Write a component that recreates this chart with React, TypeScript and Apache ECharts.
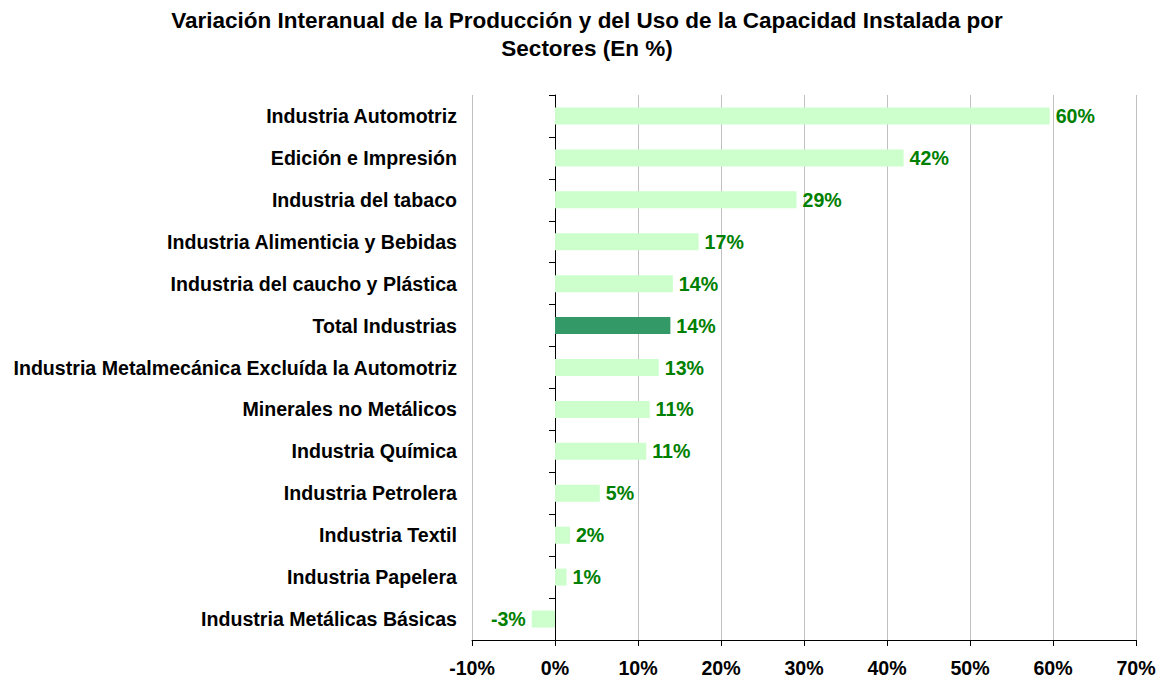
import React, { useEffect, useRef } from "react";
import * as echarts from "echarts";

const categories = [
  "Industria Automotriz",
  "Edición e Impresión",
  "Industria del tabaco",
  "Industria Alimenticia y Bebidas",
  "Industria del caucho y Plástica",
  "Total Industrias",
  "Industria Metalmecánica Excluída la Automotriz",
  "Minerales no Metálicos",
  "Industria Química",
  "Industria Petrolera",
  "Industria Textil",
  "Industria Papelera",
  "Industria Metálicas Básicas",
];

const values = [59.6, 42.0, 29.1, 17.3, 14.2, 13.9, 12.5, 11.4, 11.0, 5.4, 1.8, 1.4, -2.8];

const highlighted = "Total Industrias";

const titleText = "Variación Interanual de la Producción y del Uso de la Capacidad Instalada por\nSectores (En %)";

const FONT = "'Liberation Sans', Arial, Helvetica, sans-serif";
const FS = 19.6;

export default function App() {
  const ref = useRef<HTMLDivElement>(null);

  useEffect(() => {
    if (!ref.current) return;
    const chart = echarts.init(ref.current, null, { renderer: "svg" });
    const data = values.map((v, i) => ({
      value: v,
      itemStyle: { color: categories[i] === highlighted ? "#339966" : "#CCFFCC" },
      label: { position: v < 0 ? "left" : "right" },
    }));
    chart.setOption({
      animation: false,
      backgroundColor: "#ffffff",
      title: {
        text: titleText,
        left: 587,
        top: 6,
        padding: 0,
        textAlign: "center",
        textStyle: {
          fontFamily: FONT,
          fontWeight: "bold",
          fontSize: 22.5,
          lineHeight: 28,
          color: "#000",
          align: "center",
        },
      },
      grid: { left: 472, right: 31, top: 95, bottom: 41, containLabel: false },
      xAxis: {
        type: "value",
        min: -10,
        max: 70,
        interval: 10,
        axisLine: { show: true, onZero: false, lineStyle: { color: "#000", width: 1 } },
        axisTick: { show: true, length: 6, lineStyle: { color: "#000" } },
        splitLine: { show: true, lineStyle: { color: "#c0c0c0", width: 1 } },
        axisLabel: {
          formatter: "{value}%",
          fontFamily: FONT,
          fontWeight: "bold",
          fontSize: FS,
          color: "#000",
          margin: 18,
        },
      },
      yAxis: [
        {
          type: "category",
          data: categories,
          inverse: true,
          axisLine: { show: false, onZero: false },
          axisTick: { show: false },
          axisLabel: {
            fontFamily: FONT,
            fontWeight: "bold",
            fontSize: FS,
            color: "#000",
            margin: 15,
          },
        },
        {
          type: "category",
          data: categories,
          inverse: true,
          position: "left",
          axisLine: { show: true, onZero: true, onZeroAxisIndex: 0, lineStyle: { color: "#000", width: 1 } },
          axisTick: { show: true, length: 6, lineStyle: { color: "#000" } },
          axisLabel: { show: false },
          splitLine: { show: false },
        },
      ],
      series: [
        {
          type: "bar",
          yAxisIndex: 0,
          data,
          barWidth: 17,
          label: {
            show: true,
            distance: 6,
            formatter: (p: any) => `${Math.round(p.value)}%`,
            fontFamily: FONT,
            fontWeight: "bold",
            fontSize: FS,
            color: "#008000",
          },
        },
      ],
    });
    return () => chart.dispose();
  }, []);

  return (
    <div
      ref={ref}
      style={{ position: "fixed", left: 0, top: 0, width: 1167, height: 681 }}
    />
  );
}
